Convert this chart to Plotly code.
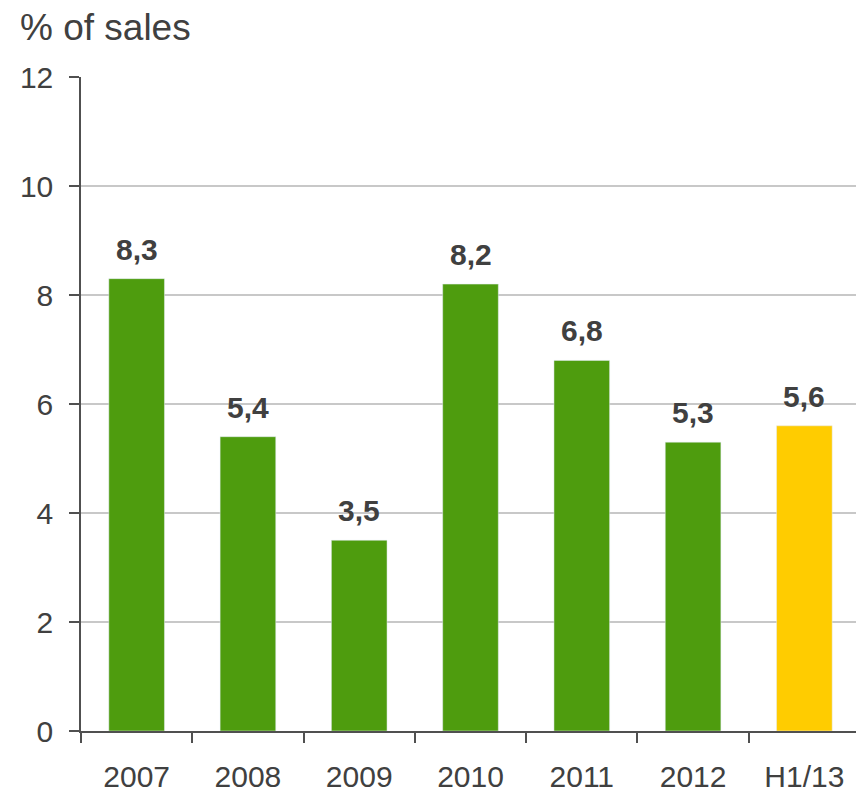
import plotly.graph_objects as go

categories = ["2007", "2008", "2009", "2010", "2011", "2012", "H1/13"]
values = [8.3, 5.4, 3.5, 8.2, 6.8, 5.3, 5.6]
labels = ["8,3", "5,4", "3,5", "8,2", "6,8", "5,3", "5,6"]
bar_colors = ["#4E9C0E"] * 6 + ["#FFCC00"]
y_ticks = [0, 2, 4, 6, 8, 10, 12]

FONT = "Arial, Liberation Sans, sans-serif"
TXT = "#404040"

fig = go.Figure()
fig.add_trace(go.Bar(
    x=categories, y=values,
    marker=dict(color=bar_colors),
))

# on a category axis, annotation x is given as the category's index
for i, (v, t) in enumerate(zip(values, labels)):
    fig.add_annotation(x=i, y=v, text="<b>%s</b>" % t, showarrow=False,
                       xref="x", yref="y", yanchor="bottom", yshift=11,
                       font=dict(family=FONT, size=30, color=TXT))

fig.add_shape(type="line", xref="paper", yref="paper", x0=1, x1=1, y0=0, y1=1,
              line=dict(color="#C8C8C8", width=1.5))

fig.update_layout(
    width=864, height=797,
    margin=dict(l=70, r=12, t=69, b=62),
    paper_bgcolor="white", plot_bgcolor="white",
    showlegend=False,
    title=dict(text="% of sales", x=12/864, xanchor="left", xref="container",
               y=1 - 6/797, yanchor="top", yref="container",
               font=dict(family=FONT, size=37, color=TXT)),
    font=dict(family=FONT, size=30, color=TXT),
    bargap=0.5,
)
fig.update_yaxes(range=[0, 12], tickvals=y_ticks,
                 showline=True, linecolor="#505050", linewidth=1.5,
                 ticks="outside", ticklen=10, tickcolor="#505050", tickwidth=1.5,
                 ticklabelstandoff=10,
                 showgrid=True, gridcolor="#C8C8C8", gridwidth=1.5,
                 zeroline=False,
                 tickfont=dict(family=FONT, size=30, color=TXT))
fig.update_xaxes(type="category", range=[-0.5, len(categories) - 0.5],
                 showline=True, linecolor="#505050", linewidth=1.5,
                 ticks="outside", ticklen=10, tickcolor="#505050", tickwidth=1.5,
                 ticklabelstandoff=18,
                 tickson="boundaries", showgrid=False, tickangle=0,
                 tickfont=dict(family=FONT, size=30, color=TXT))

fig.write_html("out.html")
